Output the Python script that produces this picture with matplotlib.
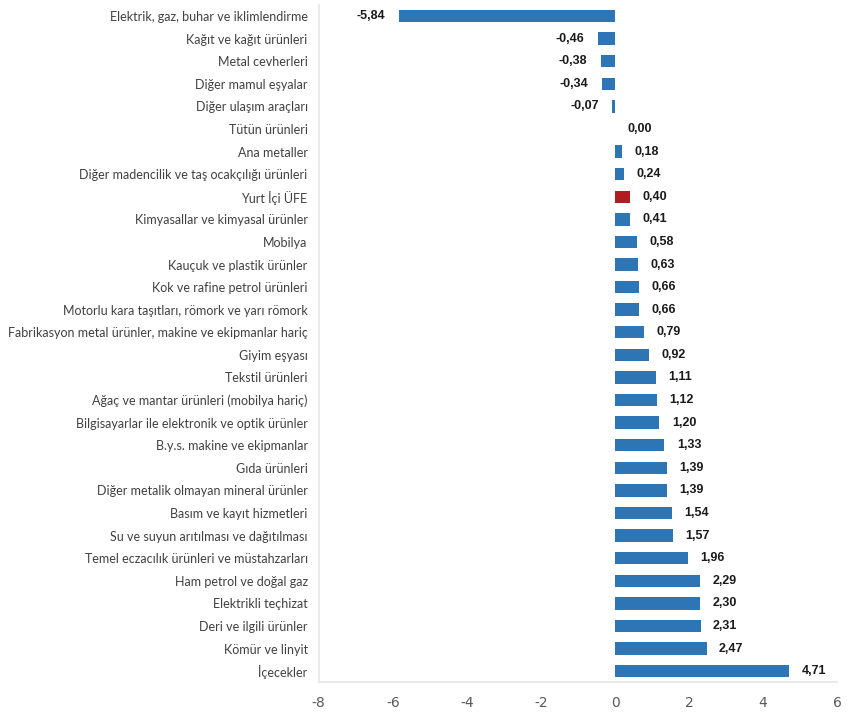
import numpy as np
import matplotlib.pyplot as plt

categories = [
    "Elektrik, gaz, buhar ve iklimlendirme",
    "Kağıt ve kağıt ürünleri",
    "Metal cevherleri",
    "Diğer mamul eşyalar",
    "Diğer ulaşım araçları",
    "Tütün ürünleri",
    "Ana metaller",
    "Diğer madencilik ve taş ocakçılığı ürünleri",
    "Yurt İçi ÜFE",
    "Kimyasallar ve kimyasal ürünler",
    "Mobilya",
    "Kauçuk ve plastik ürünler",
    "Kok ve rafine petrol ürünleri",
    "Motorlu kara taşıtları, römork ve yarı römork",
    "Fabrikasyon metal ürünler, makine ve ekipmanlar hariç",
    "Giyim eşyası",
    "Tekstil ürünleri",
    "Ağaç ve mantar ürünleri (mobilya hariç)",
    "Bilgisayarlar ile elektronik ve optik ürünler",
    "B.y.s. makine ve ekipmanlar",
    "Gıda ürünleri",
    "Diğer metalik olmayan mineral ürünler",
    "Basım ve kayıt hizmetleri",
    "Su ve suyun arıtılması ve dağıtılması",
    "Temel eczacılık ürünleri ve müstahzarları",
    "Ham petrol ve doğal gaz",
    "Elektrikli teçhizat",
    "Deri ve ilgili ürünler",
    "Kömür ve linyit",
    "İçecekler",
]
values = [-5.84, -0.46, -0.38, -0.34, -0.07, 0.00, 0.18, 0.24, 0.40, 0.41,
          0.58, 0.63, 0.66, 0.66, 0.79, 0.92, 1.11, 1.12, 1.20, 1.33,
          1.39, 1.39, 1.54, 1.57, 1.96, 2.29, 2.30, 2.31, 2.47, 4.71]
highlight = "Yurt İçi ÜFE"
xticks = [-8, -6, -4, -2, 0, 2, 4, 6]

blue = "#2E75B6"
red = "#B01C22"
colors = [red if c == highlight else blue for c in categories]

fig = plt.figure(figsize=(8.5, 7.26), dpi=100)
ax = fig.add_axes([0.375, 0.06, 0.61, 0.9335])

y = np.arange(len(categories))
ax.barh(y, values, height=0.55, color=colors)
ax.set_ylim(len(categories) - 0.5, -0.5)
ax.set_xlim(-8, 6)
ax.set_xticks(xticks)
ax.set_xticklabels([str(t) for t in xticks], color="#595959", fontsize=10)
ax.set_yticks(y)
ax.set_yticklabels(categories, color="#404040", fontsize=9, family="Lato")
ax.tick_params(axis="both", length=0)
ax.tick_params(axis="x", pad=10)
ax.tick_params(axis="y", pad=8)

for s in ["top", "right"]:
    ax.spines[s].set_visible(False)
for s in ["left", "bottom"]:
    ax.spines[s].set_color("#E6E6E6")
    ax.spines[s].set_linewidth(1.2)

for yi, v in zip(y, values):
    lbl = f"{v:.2f}".replace(".", ",")
    if v < 0:
        ax.annotate(lbl, (v, yi), xytext=(-10, 0), textcoords="offset points",
                    ha="right", va="center", fontsize=9, fontweight="bold",
                    family="Liberation Sans", color="#1a1a1a")
    else:
        ax.annotate(lbl, (v, yi), xytext=(9, 0), textcoords="offset points",
                    ha="left", va="center", fontsize=9, fontweight="bold",
                    family="Liberation Sans", color="#1a1a1a")

fig.savefig("out.png", dpi=100, facecolor="white")
